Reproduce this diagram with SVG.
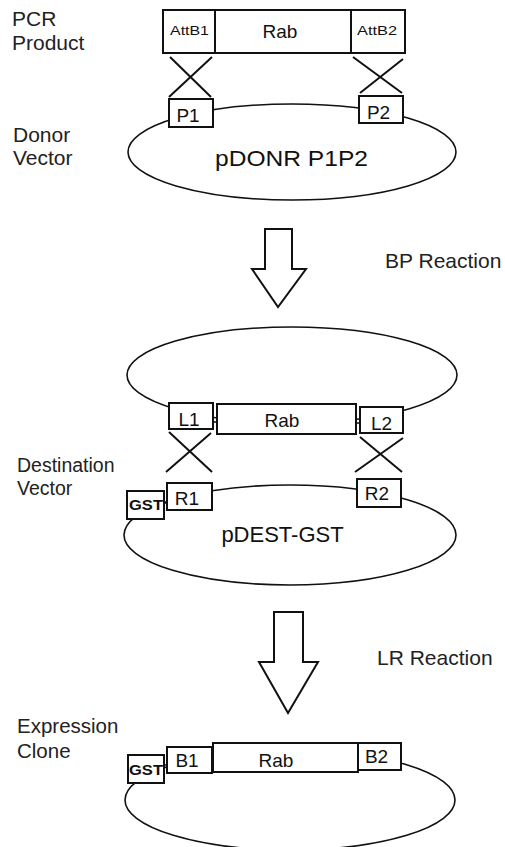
<svg xmlns="http://www.w3.org/2000/svg" width="505" height="847" viewBox="0 0 505 847">
<style>
.lbl{font-family:"Liberation Sans",Arial,sans-serif;font-size:21px;fill:#222}
.box{fill:#fff;stroke:#111;stroke-width:2}
.ell{fill:none;stroke:#111;stroke-width:1.6}
.x{stroke:#111;stroke-width:2;fill:none}
.t{font-family:"Liberation Sans",Arial,sans-serif;font-size:19px;fill:#111;text-anchor:middle}
.v{font-family:"Liberation Sans",Arial,sans-serif;font-size:22px;fill:#111;text-anchor:middle}
.s{font-family:"Liberation Sans",Arial,sans-serif;font-size:12px;fill:#111;text-anchor:middle}
.g{font-family:"Liberation Sans",Arial,sans-serif;font-size:15px;font-weight:bold;fill:#111;text-anchor:middle}
.arr{fill:#fff;stroke:#111;stroke-width:2;stroke-linejoin:miter}
</style>
<rect width="505" height="847" fill="#fff"/>
<g id="labels">
<text class="lbl" x="12" y="26">PCR</text>
<text class="lbl" x="12" y="50">Product</text>
<text class="lbl" x="13" y="142">Donor</text>
<text class="lbl" x="13" y="165">Vector</text>
<text class="lbl" x="385" y="268">BP Reaction</text>
<text class="lbl" x="17" y="472" style="font-size:19.5px">Destination</text>
<text class="lbl" x="17" y="495" style="font-size:19.5px">Vector</text>
<text class="lbl" x="377" y="665">LR Reaction</text>
<text class="lbl" x="17" y="733" style="font-size:20.5px">Expression</text>
<text class="lbl" x="17" y="758" style="font-size:20.5px">Clone</text>
</g>
<g id="pcr-product">
<rect class="box" x="163" y="10" width="242" height="43"/>
<line class="x" x1="215" y1="10" x2="215" y2="53"/>
<line class="x" x1="351" y1="10" x2="351" y2="53"/>
<text class="s" x="189.5" y="34.5" textLength="39" lengthAdjust="spacingAndGlyphs">AttB1</text>
<text class="t" x="280" y="38">Rab</text>
<text class="s" x="377" y="34.5" textLength="40" lengthAdjust="spacingAndGlyphs">AttB2</text>
</g>
<g id="donor-vector">
<ellipse class="ell" cx="292" cy="152" rx="164" ry="48"/>
<rect class="box" x="169" y="99" width="44" height="28"/>
<text class="t" x="188" y="122">P1</text>
<rect class="box" x="359" y="96" width="44" height="27"/>
<text class="t" x="378.5" y="119">P2</text>
<text class="v" x="291.5" y="165.5" textLength="153" lengthAdjust="spacingAndGlyphs">pDONR P1P2</text>
</g>
<g id="entry-clone">
<ellipse class="ell" cx="292" cy="375" rx="165" ry="48"/>
<rect class="box" x="169" y="403" width="44" height="26"/>
<text class="t" x="189" y="426">L1</text>
<rect class="box" x="217" y="404" width="139" height="30"/>
<text class="t" x="282" y="427">Rab</text>
<rect class="box" x="360" y="407" width="43" height="26"/>
<text class="t" x="381.5" y="430">L2</text>
<line x1="213" y1="422" x2="217" y2="422" stroke="#111" stroke-width="1.5"/>
<line x1="356" y1="423" x2="360" y2="423" stroke="#111" stroke-width="1.5"/>
</g>
<g id="destination-vector">
<ellipse class="ell" cx="290" cy="535" rx="166" ry="50"/>
<rect class="box" x="127" y="491" width="37" height="28"/>
<text class="g" x="146" y="509.5" textLength="34" lengthAdjust="spacingAndGlyphs">GST</text>
<rect class="box" x="167" y="483" width="45" height="27"/>
<text class="t" x="187" y="505">R1</text>
<rect class="box" x="357" y="479" width="44" height="28"/>
<text class="t" x="377" y="500">R2</text>
<line x1="164" y1="503" x2="167" y2="503" stroke="#111" stroke-width="1.5"/>
<text class="v" x="282.5" y="542">pDEST-GST</text>
</g>
<g id="expression-clone">
<ellipse class="ell" cx="290" cy="800" rx="165" ry="50"/>
<rect class="box" x="128" y="755" width="36" height="28"/>
<text class="g" x="146" y="775" textLength="34" lengthAdjust="spacingAndGlyphs">GST</text>
<rect class="box" x="167" y="747" width="45" height="26"/>
<text class="t" x="187" y="767">B1</text>
<rect class="box" x="213" y="743" width="145" height="29"/>
<text class="t" x="276" y="767">Rab</text>
<rect class="box" x="358" y="743" width="43" height="27"/>
<text class="t" x="376.5" y="763">B2</text>
<line x1="164" y1="765" x2="167" y2="765" stroke="#111" stroke-width="1.5"/>
</g>
<g id="connectors">
<line class="x" x1="170" y1="57" x2="211" y2="97"/>
<line class="x" x1="212" y1="57" x2="169" y2="97"/>
<line class="x" x1="353" y1="57" x2="402" y2="93"/>
<line class="x" x1="403" y1="59" x2="360" y2="93"/>
<polygon class="arr" points="265,229 292,229 292,269 306,269 278,307 252,269 265,269"/>
<line class="x" x1="169" y1="432" x2="212" y2="472"/>
<line class="x" x1="211" y1="433" x2="166" y2="472"/>
<line class="x" x1="360" y1="437" x2="402" y2="472"/>
<line class="x" x1="403" y1="438" x2="355" y2="472"/>
<polygon class="arr" points="274,612 303,612 303,662 318,662 288,713 259,662 274,662"/>
</g>
</svg>
